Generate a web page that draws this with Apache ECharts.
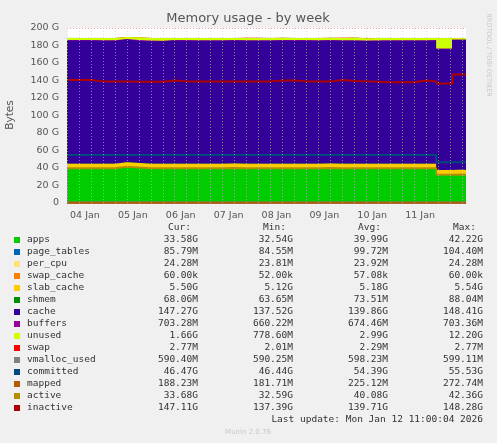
<!DOCTYPE html>
<html><head><meta charset="utf-8">
<script src="https://cdn.jsdelivr.net/npm/echarts@6/dist/echarts.min.js"></script>
<style>html,body{margin:0;padding:0;background:#f0f0f0}#c{width:497px;height:443px}</style>
</head><body><div id="c"></div>
<script>
// hours since 04 Jan 03:00
const hours = [0,6,12,18,24,30,36,42,48,54,60,66,72,78,84,90,96,102,108,114,120,126,132,138,144,150,156,162,168,174,180,185,189,193,197,200];
const apps      = [39.5,39.5,39.5,39.5,41.2,40.5,39.6,39.5,39.6,39.5,39.5,39.6,39.5,39.7,39.5,39.5,39.5,39.6,39.5,39.5,39.5,39.7,39.5,39.6,39.5,39.5,39.5,39.6,39.5,39.5,39.5,32.0,32.0,32.4,32.2,32.0];
const pageTables= [0.1,0.1,0.1,0.1,0.1,0.1,0.1,0.1,0.1,0.1,0.1,0.1,0.1,0.1,0.1,0.1,0.1,0.1,0.1,0.1,0.1,0.1,0.1,0.1,0.1,0.1,0.1,0.1,0.1,0.1,0.1,0.09,0.09,0.09,0.09,0.09];
const perCpu    = Array(36).fill(0.024);
const swapCache = Array(36).fill(0.00006);
const slabCache = [5.2,5.2,5.2,5.2,5.3,5.2,5.15,5.15,5.15,5.2,5.15,5.15,5.15,5.2,5.15,5.15,5.15,5.2,5.15,5.15,5.15,5.2,5.15,5.15,5.2,5.2,5.2,5.2,5.2,5.2,5.2,5.5,5.5,5.5,5.5,5.5];
const shmem     = Array(36).fill(0.07);
const cache     = [140.8,140.8,140.5,140.5,140.2,139.6,140.0,140.0,140.7,140.6,140.5,140.4,140.5,140.5,140.6,140.5,140.5,140.6,140.7,140.7,140.6,140.5,140.5,140.4,140.2,140.3,140.5,140.4,140.5,140.5,140.8,138.2,138.2,148.2,148.2,148.2];
const buffers   = [0.68,0.68,0.67,0.67,0.67,0.67,0.67,0.67,0.67,0.67,0.67,0.67,0.67,0.67,0.67,0.67,0.67,0.67,0.67,0.67,0.67,0.67,0.67,0.67,0.67,0.67,0.67,0.67,0.67,0.67,0.67,0.66,0.66,0.70,0.70,0.70];
const unused    = [2.3,2.3,2.6,2.6,2.1,3.2,3.0,3.0,2.3,2.5,2.6,2.6,2.6,2.4,2.6,2.7,2.6,2.5,2.3,2.3,2.4,2.6,2.7,3.2,2.5,2.7,2.6,2.6,2.5,2.5,2.2,12.1,12.1,1.7,1.7,1.7];
const swap      = Array(36).fill(0.0023);
const vmalloc   = Array(36).fill(0.59);
const committed = [54.8,54.8,54.8,54.8,54.8,54.8,54.8,54.8,54.8,54.8,54.8,54.8,54.8,54.8,54.8,54.8,54.8,54.8,54.8,54.8,54.8,54.8,54.8,54.8,54.8,54.8,54.8,54.8,54.8,54.8,54.8,46.5,46.5,46.5,46.5,46.5];
const mapped    = [0.22,0.22,0.22,0.22,0.27,0.25,0.23,0.22,0.22,0.22,0.22,0.22,0.22,0.22,0.22,0.22,0.22,0.22,0.22,0.22,0.22,0.22,0.22,0.22,0.22,0.22,0.22,0.22,0.22,0.22,0.22,0.19,0.19,0.19,0.19,0.19];
const active    = [39.7,39.7,39.7,39.7,41.4,40.7,39.8,39.7,39.8,39.7,39.7,39.8,39.7,39.9,39.7,39.7,39.7,39.8,39.7,39.7,39.7,39.9,39.7,39.8,39.7,39.7,39.7,39.8,39.7,39.7,39.7,32.2,32.2,32.6,32.4,32.2];
const inactive  = [140.5,140.5,139.0,139.0,139.0,138.5,138.5,138.5,140.0,139.0,139.0,139.0,139.0,139.0,139.0,139.0,139.0,140.0,140.0,139.0,139.0,139.0,140.5,139.5,139.0,138.5,138.0,138.0,138.0,140.0,139.0,136.5,136.5,147.0,147.0,147.0];

const dayLabels = ['04 Jan','05 Jan','06 Jan','07 Jan','08 Jan','09 Jan','10 Jan','11 Jan'];

const names = ['apps','page_tables','per_cpu','swap_cache','slab_cache','shmem','cache','buffers','unused','swap','vmalloc_used','committed','mapped','active','inactive'];
const colors = ['#00cc00','#0066b3','#ffe27a','#ff8000','#ffcc00','#008f00','#330099','#990099','#ccff00','#ff0000','#808080','#00487d','#b35a00','#b38f00','#b00000'];
const curV = ['33.58G','85.79M','24.28M','60.00k','5.50G','68.06M','147.27G','703.28M','1.66G','2.77M','590.40M','46.47G','188.23M','33.68G','147.11G'];
const minV = ['32.54G','84.55M','23.81M','52.00k','5.12G','63.65M','137.52G','660.22M','778.60M','2.01M','590.25M','46.44G','181.71M','32.59G','137.39G'];
const avgV = ['39.99G','99.72M','23.92M','57.08k','5.18G','73.51M','139.86G','674.46M','2.99G','2.29M','598.23M','54.39G','225.12M','40.08G','139.71G'];
const maxV = ['42.22G','104.40M','24.28M','60.00k','5.54G','88.04M','148.41G','703.36M','12.20G','2.77M','599.11M','55.53G','272.74M','42.36G','148.28G'];

const stacked = [apps,pageTables,perCpu,swapCache,slabCache,shmem,cache,buffers,unused,swap];
const lines = [vmalloc,committed,mapped,active,inactive];

// cumulative tops of the stacked areas
const cum = []; let run = hours.map(()=>0);
stacked.forEach(a=>{ run = run.map((v,i)=>v+a[i]); cum.push(run.slice()); });

const series = [];
const vGray=[],vRed=[];
for(let h=0;h<=200;h+=6){ if((h+3)%24===0) vRed.push({xAxis:h}); else vGray.push({xAxis:h}); }
for(let i=stacked.length-1;i>=0;i--){
  series.push({name:names[i],type:'line',step:'end',symbol:'none',data:hours.map((h,k)=>[h,cum[i][k]]),
    lineStyle:{width:0},areaStyle:{color:colors[i],opacity:1,origin:'start'},itemStyle:{color:colors[i]},silent:true,z:2});
}
series.push({type:'line',data:[],z:3,markLine:{silent:true,symbol:'none',label:{show:false},
  data:vGray,lineStyle:{color:'rgba(200,200,200,0.6)',type:[1,2],width:1}}});
series.push({type:'line',data:[],z:3,markLine:{silent:true,symbol:'none',label:{show:false},
  data:vRed,lineStyle:{color:'rgba(240,120,120,0.7)',type:[1,2],width:1}}});
lines.forEach((a,j)=>{const i=j+10;series.push({name:names[i],type:'line',step:'end',symbol:'none',data:hours.map((h,k)=>[h,a[k]]),
  lineStyle:{width:2,color:colors[i]},itemStyle:{color:colors[i]},silent:true,z:4});});

const mono='DejaVu Sans Mono';
const g=[];
const hdrY=228, rowY=240, step=12;
[['Cur:',198],['Min:',293],['Avg:',388],['Max:',483]].forEach(([t,x])=>g.push({type:'text',x:x-7,y:hdrY,style:{text:t,font:'9.5px '+mono,fill:'#333',align:'right',verticalAlign:'middle'}}));
names.forEach((n,i)=>{
  const y=rowY+i*step;
  g.push({type:'rect',shape:{x:14,y:y-3,width:6,height:6},style:{fill:colors[i]}});
  g.push({type:'text',x:27,y:y,style:{text:n,font:'9.5px '+mono,fill:'#333',verticalAlign:'middle'}});
  [[curV,198],[minV,293],[avgV,388],[maxV,483]].forEach(([arr,x])=>g.push({type:'text',x:x,y:y,style:{text:arr[i],font:'9.5px '+mono,fill:'#333',align:'right',verticalAlign:'middle'}}));
});
g.push({type:'text',x:483,y:420,style:{text:'Last update: Mon Jan 12 11:00:04 2026',font:'9.5px '+mono,fill:'#333',align:'right',verticalAlign:'middle'}});
g.push({type:'text',x:248,y:432,style:{text:'Munin 2.0.76',font:'7px DejaVu Sans',fill:'#c8c8c8',align:'center',verticalAlign:'middle'}});
g.push({type:'text',x:248,y:19,style:{text:'Memory usage - by week',font:'13px DejaVu Sans',fill:'#555',align:'center',verticalAlign:'middle'}});
g.push({type:'text',x:10,y:115,rotation:Math.PI/2,style:{text:'Bytes',font:'10.5px DejaVu Sans',fill:'#555',align:'center',verticalAlign:'middle'}});
g.push({type:'text',x:489,y:55,rotation:-Math.PI/2,style:{text:'RRDTOOL / TOBI OETIKER',font:'6.5px DejaVu Sans',fill:'#c8c8c8',align:'center',verticalAlign:'middle'}});

const chart=echarts.init(document.getElementById('c'),null,{renderer:'canvas'});
chart.setOption({
  backgroundColor:'#f0f0f0',animation:false,
  grid:{left:67,right:31,top:28,bottom:240,backgroundColor:'#ffffff',show:true,borderWidth:0},
  xAxis:[{type:'value',min:0,max:200,interval:3,
    axisLine:{lineStyle:{color:'#bbb'}},axisTick:{show:false},splitLine:{show:false},
    axisLabel:{color:'#555',fontSize:9.5,fontFamily:'DejaVu Sans',showMinLabel:true,showMaxLabel:true,
      formatter:v=>{ if((v+3)%24===12){return dayLabels[(v+3-12)/24]||'';} return ''; }}}],
  yAxis:[{type:'value',min:0,max:200,interval:20,
    axisLine:{show:false},axisTick:{show:false},
    axisLabel:{color:'#555',fontSize:9.5,fontFamily:'DejaVu Sans',formatter:v=>v===0?'0':v+' G'},
    splitLine:{lineStyle:{color:'rgba(240,120,120,0.7)',type:[1,2]}},
    minorTick:{show:false,splitNumber:2},minorSplitLine:{show:true,lineStyle:{color:'rgba(200,200,200,0.6)',type:[1,2]}}}],
  series:series,
  graphic:g
});
</script></body></html>
